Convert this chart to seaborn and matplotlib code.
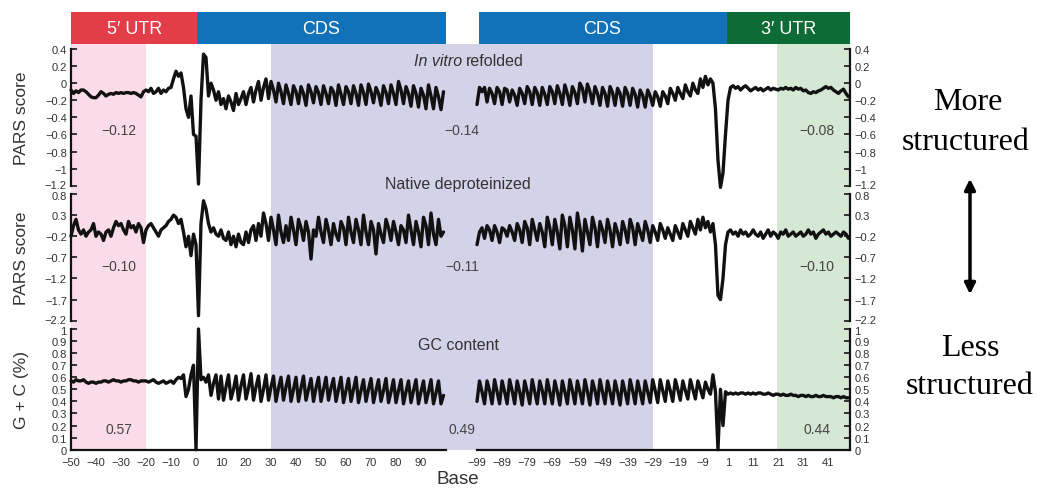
import numpy as np
import pandas as pd
import matplotlib
matplotlib.use('Agg')
import matplotlib.pyplot as plt
import matplotlib.transforms as mtransforms
import seaborn as sns

# bases on each side of the break (start codon side / stop codon side)
bases_left = list(range(-50, 100))
bases_right = list(range(-99, 50))

# In vitro refolded PARS score
vitro_left = [
    -0.08, -0.12, -0.09, -0.11, -0.08, -0.08, -0.10, -0.13, -0.16, -0.17,
    -0.17, -0.14, -0.10, -0.12, -0.15, -0.13, -0.12, -0.13, -0.11, -0.12,
    -0.11, -0.12, -0.11, -0.11, -0.12, -0.11, -0.12, -0.14, -0.16, -0.10,
    -0.08, -0.10, -0.06, -0.12, -0.10, -0.06, -0.12, -0.08, -0.10, -0.06,
    -0.05, 0.05, 0.14, 0.08, 0.12, -0.05, -0.30, -0.40, -0.15, -0.60,
    -0.62, -1.18, -0.20, 0.34, 0.30, -0.15, 0.00, -0.08, -0.20, -0.10,
    -0.25, -0.18, -0.30, -0.15, -0.22, -0.32, -0.12, -0.25, -0.18, -0.10,
    -0.25, -0.12, -0.05, -0.22, -0.08, 0.02, -0.20, -0.05, 0.05, -0.18,
    0.02, -0.08, -0.22, 0.00, -0.10, -0.24, -0.02, -0.12, -0.25, -0.03,
    -0.10, -0.24, -0.04, -0.12, -0.26, -0.02, -0.10, -0.23, -0.04, -0.11,
    -0.25, -0.03, -0.12, -0.24, -0.05, -0.10, -0.26, -0.02, -0.13, -0.25,
    -0.04, -0.10, -0.24, -0.03, -0.12, -0.26, -0.02, -0.11, -0.25, -0.01,
    -0.10, -0.23, -0.05, -0.12, -0.26, -0.03, -0.11, -0.24, -0.02, -0.12,
    -0.25, 0.02, -0.08, -0.24, -0.04, -0.12, -0.27, -0.03, -0.12, -0.28,
    -0.06, -0.14, -0.30, -0.02, -0.15, -0.30, -0.05, -0.16, -0.31, -0.10]
vitro_right = [
    -0.25, -0.05, -0.10, -0.05, -0.22, -0.06, -0.12, -0.24, -0.05, -0.10,
    -0.25, -0.06, -0.08, -0.22, -0.08, -0.14, -0.26, -0.06, -0.12, -0.24,
    -0.04, -0.10, -0.25, -0.05, -0.11, -0.26, -0.05, -0.13, -0.25, -0.04,
    -0.10, -0.24, -0.03, -0.12, -0.25, -0.02, -0.12, -0.26, -0.04, -0.11,
    -0.24, 0.00, -0.06, -0.22, -0.01, -0.10, -0.24, -0.04, -0.12, -0.26,
    -0.05, -0.12, -0.27, -0.04, -0.11, -0.26, -0.06, -0.12, -0.27, -0.05,
    -0.12, -0.26, -0.06, -0.13, -0.28, -0.08, -0.14, -0.28, -0.08, -0.15,
    -0.26, -0.10, -0.16, -0.27, -0.10, -0.15, -0.24, -0.06, -0.12, -0.20,
    -0.05, -0.12, -0.18, -0.02, -0.10, -0.15, 0.00, -0.08, -0.12, 0.05,
    -0.05, 0.08, -0.02, 0.05, 0.00, -0.30, -0.90, -1.22, -1.05, -0.60,
    -0.20, -0.05, -0.03, -0.06, -0.04, -0.08, -0.05, -0.03, -0.06, -0.09,
    -0.07, -0.05, -0.08, -0.06, -0.09, -0.07, -0.05, -0.08, -0.06, -0.07,
    -0.08, -0.06, -0.07, -0.05, -0.07, -0.06, -0.08, -0.05, -0.07, -0.06,
    -0.09, -0.08, -0.11, -0.12, -0.10, -0.11, -0.09, -0.08, -0.06, -0.04,
    -0.06, -0.05, -0.08, -0.10, -0.12, -0.09, -0.07, -0.12, -0.16]

# Native deproteinized PARS score
native_left = [
    -0.20, 0.05, 0.20, -0.05, -0.15, -0.05, -0.20, -0.10, -0.05, 0.10,
    -0.20, -0.10, -0.15, -0.30, -0.10, -0.05, -0.20, 0.00, 0.15, 0.05,
    0.10, -0.05, -0.15, 0.15, 0.00, 0.05, -0.10, 0.10, 0.00, -0.35,
    -0.05, 0.05, 0.10, 0.00, -0.10, -0.20, -0.05, 0.00, 0.05, 0.15,
    0.20, 0.30, 0.25, 0.10, 0.20, -0.10, -0.45, -0.20, -0.66, -0.15,
    -0.40, -2.08, 0.10, 0.64, 0.45, 0.10, -0.10, 0.00, -0.15, -0.20,
    -0.05, -0.25, -0.30, -0.10, -0.40, -0.20, -0.45, -0.15, -0.35, -0.40,
    -0.10, -0.35, -0.05, 0.05, -0.30, 0.10, -0.20, 0.35, 0.10, -0.30,
    0.25, -0.05, -0.40, 0.30, -0.10, -0.35, 0.05, -0.30, 0.25, -0.05,
    -0.40, 0.20, 0.00, -0.30, 0.15, -0.10, -0.74, -0.05, -0.20, 0.25,
    -0.10, -0.35, 0.20, -0.05, -0.40, 0.10, -0.15, -0.30, 0.15, 0.00,
    -0.40, 0.25, -0.10, -0.35, 0.20, -0.05, -0.40, 0.30, -0.10, -0.40,
    0.15, -0.05, -0.62, 0.10, -0.15, -0.35, 0.20, 0.00, -0.30, 0.15,
    -0.10, -0.40, 0.05, -0.05, -0.35, 0.30, -0.05, -0.40, 0.15, -0.10,
    -0.45, 0.25, 0.05, -0.40, 0.35, -0.15, -0.40, 0.20, -0.20, -0.10]
native_right = [
    -0.40, -0.10, 0.00, -0.25, 0.05, -0.05, -0.30, 0.05, -0.10, -0.35,
    0.00, -0.05, -0.20, 0.05, -0.10, -0.30, 0.10, -0.05, -0.35, 0.15,
    0.00, -0.40, 0.20, -0.05, -0.30, 0.10, -0.10, -0.45, 0.25, 0.00,
    -0.40, 0.20, -0.10, -0.50, 0.30, 0.05, -0.45, 0.25, -0.05, -0.50,
    0.35, 0.00, -0.55, 0.20, -0.10, -0.40, 0.25, 0.00, -0.45, 0.15,
    -0.05, -0.35, 0.20, -0.05, -0.45, 0.10, -0.10, -0.40, 0.15, -0.05,
    -0.35, 0.20, 0.00, -0.40, 0.10, -0.10, -0.30, 0.15, -0.05, -0.35,
    0.05, -0.10, -0.30, 0.10, -0.05, -0.25, 0.00, -0.15, -0.30, 0.05,
    -0.10, -0.25, 0.10, -0.05, -0.20, 0.15, 0.00, -0.15, 0.20, -0.05,
    0.25, 0.00, 0.15, -0.10, 0.10, -0.40, -1.60, -1.70, -1.20, -0.40,
    -0.10, -0.05, -0.15, -0.10, -0.20, -0.05, -0.15, -0.10, -0.20, -0.15,
    -0.05, -0.15, -0.20, -0.10, -0.25, -0.15, -0.05, -0.20, -0.10, -0.15,
    -0.25, -0.10, -0.15, -0.05, -0.20, -0.15, -0.10, -0.20, -0.15, -0.10,
    -0.20, -0.15, -0.05, -0.15, -0.10, -0.25, -0.15, -0.10, -0.05, -0.15,
    -0.10, -0.20, -0.15, -0.10, -0.15, -0.20, -0.10, -0.15, -0.25]

# GC content (fraction)
gc_left = [
    0.57, 0.56, 0.58, 0.57, 0.57, 0.58, 0.56, 0.55, 0.56, 0.56,
    0.55, 0.56, 0.56, 0.57, 0.57, 0.56, 0.57, 0.58, 0.57, 0.57,
    0.56, 0.57, 0.57, 0.58, 0.58, 0.57, 0.57, 0.56, 0.57, 0.57,
    0.57, 0.56, 0.57, 0.58, 0.56, 0.55, 0.56, 0.57, 0.55, 0.56,
    0.57, 0.55, 0.58, 0.60, 0.59, 0.62, 0.44, 0.50, 0.62, 0.70,
    0.00, 1.00, 0.58, 0.60, 0.56, 0.62, 0.45, 0.55, 0.62, 0.42,
    0.61, 0.41, 0.52, 0.62, 0.42, 0.50, 0.61, 0.41, 0.53, 0.62,
    0.42, 0.51, 0.63, 0.41, 0.52, 0.61, 0.40, 0.50, 0.62, 0.41,
    0.52, 0.61, 0.40, 0.51, 0.60, 0.41, 0.52, 0.61, 0.40, 0.50,
    0.60, 0.40, 0.51, 0.61, 0.41, 0.50, 0.59, 0.40, 0.51, 0.60,
    0.40, 0.50, 0.60, 0.41, 0.51, 0.59, 0.40, 0.50, 0.60, 0.39,
    0.49, 0.59, 0.40, 0.50, 0.60, 0.39, 0.49, 0.58, 0.40, 0.50,
    0.59, 0.39, 0.49, 0.58, 0.40, 0.49, 0.59, 0.39, 0.48, 0.58,
    0.39, 0.49, 0.58, 0.38, 0.48, 0.57, 0.39, 0.49, 0.58, 0.38,
    0.48, 0.57, 0.39, 0.48, 0.58, 0.38, 0.47, 0.57, 0.38, 0.45]
gc_right = [
    0.40, 0.57, 0.48, 0.38, 0.57, 0.49, 0.38, 0.58, 0.48, 0.38,
    0.57, 0.48, 0.38, 0.58, 0.49, 0.38, 0.57, 0.48, 0.37, 0.57,
    0.48, 0.38, 0.58, 0.48, 0.38, 0.57, 0.49, 0.38, 0.58, 0.48,
    0.38, 0.57, 0.48, 0.37, 0.57, 0.48, 0.38, 0.58, 0.49, 0.38,
    0.57, 0.48, 0.38, 0.58, 0.48, 0.37, 0.57, 0.49, 0.38, 0.58,
    0.48, 0.38, 0.57, 0.48, 0.38, 0.57, 0.48, 0.37, 0.57, 0.48,
    0.38, 0.58, 0.49, 0.38, 0.57, 0.48, 0.38, 0.57, 0.48, 0.39,
    0.58, 0.49, 0.39, 0.58, 0.49, 0.40, 0.57, 0.49, 0.40, 0.58,
    0.50, 0.41, 0.57, 0.49, 0.42, 0.58, 0.50, 0.42, 0.57, 0.50,
    0.43, 0.56, 0.50, 0.46, 0.62, 0.48, 0.00, 0.50, 0.20, 0.48,
    0.46, 0.47, 0.46, 0.47, 0.46, 0.47, 0.47, 0.46, 0.47, 0.46,
    0.47, 0.46, 0.47, 0.47, 0.46, 0.46, 0.47, 0.46, 0.45, 0.46,
    0.46, 0.45, 0.46, 0.45, 0.45, 0.46, 0.45, 0.45, 0.44, 0.45,
    0.45, 0.44, 0.45, 0.44, 0.44, 0.45, 0.44, 0.44, 0.45, 0.44,
    0.44, 0.44, 0.43, 0.44, 0.44, 0.43, 0.44, 0.43, 0.43]

# mean values per region (5' UTR, CDS, 3' UTR)
vitro_means = ['\u22120.12', '\u22120.14', '\u22120.08']
native_means = ['\u22120.10', '\u22120.11', '\u22120.10']
gc_means = ['0.57', '0.49', '0.44']

vitro_ticks = [0.4, 0.2, 0, -0.2, -0.4, -0.6, -0.8, -1, -1.2]
native_ticks = [0.8, 0.3, -0.2, -0.7, -1.2, -1.7, -2.2]
gc_ticks = [0, 0.1, 0.2, 0.3, 0.4, 0.5, 0.6, 0.7, 0.8, 0.9, 1]
xticks_left = list(range(-50, 100, 10))
xticks_right = list(range(-99, 50, 10))

W, H = 1040, 489
LEFT_X, LEFT_W = 71, 375
RIGHT_X, RIGHT_W = 477, 373
XLIM_LEFT = (-50, 100)
XLIM_RIGHT = (-99, 49.6)
TEXT_GREY = '#333333'
LAVENDER = '#d4d2e8'
TICK_SIZE = 8


def fig_rect(x0: float, y_top: float, w: float, y_bottom: float) -> list:
    return [x0 / W, 1 - y_bottom / H, w / W, (y_bottom - y_top) / H]


def fmt_tick(v: float) -> str:
    s = f'{v:g}'
    return s.replace('-', '\u2212')


def nudge(fig, label, dy_px: float) -> None:
    # small vertical shift so stacked panel end labels do not collide
    offset = mtransforms.ScaledTranslation(0, dy_px / 100, fig.dpi_scale_trans)
    label.set_transform(label.get_transform() + offset)


def draw_panel(fig, y_top: float, y_bottom: float, left_vals: list,
               right_vals: list, yticks: list, ylim: tuple,
               ylabel: str, bottom: bool) -> None:
    for side in ('left', 'right'):
        if side == 'left':
            rect = fig_rect(LEFT_X, y_top, LEFT_W, y_bottom)
            xs, ys, xlim, xt = bases_left, left_vals, XLIM_LEFT, xticks_left
        else:
            rect = fig_rect(RIGHT_X, y_top, RIGHT_W, y_bottom)
            xs, ys, xlim, xt = bases_right, right_vals, XLIM_RIGHT, xticks_right
        assert len(xs) == len(ys), (ylabel, side, len(ys))
        ax = fig.add_axes(rect)
        ax.set_facecolor('none')
        df = pd.DataFrame({'base': xs, 'value': ys})
        sns.lineplot(data=df, x='base', y='value', ax=ax, color='#111111',
                     linewidth=2.4, clip_on=False)
        ax.set_xlim(*xlim)
        ax.set_ylim(*ylim)
        for sp in ax.spines.values():
            sp.set_visible(False)
        ax.spines[side].set_visible(True)
        ax.spines[side].set_linewidth(1.6)
        ax.spines[side].set_color('#111111')
        ax.set_yticks(yticks)
        ax.set_yticklabels([fmt_tick(t) for t in yticks])
        ax.tick_params(axis='y', direction='in', length=4, width=1.3,
                       labelsize=TICK_SIZE, labelcolor=TEXT_GREY, pad=3,
                       left=(side == 'left'), labelleft=(side == 'left'),
                       right=(side == 'right'), labelright=(side == 'right'))
        ylabels = ax.get_yticklabels()
        lo = min(range(len(yticks)), key=lambda i: yticks[i])
        hi = max(range(len(yticks)), key=lambda i: yticks[i])
        if not bottom:
            nudge(fig, ylabels[lo], 1.5)
        if y_top > 100:
            nudge(fig, ylabels[hi], -1.5)
        if bottom:
            ax.spines['bottom'].set_visible(True)
            ax.spines['bottom'].set_linewidth(1.6)
            ax.spines['bottom'].set_color('#111111')
            ax.set_xticks(xt)
            ax.set_xticklabels([fmt_tick(t) for t in xt])
            ax.tick_params(axis='x', direction='in', length=4, width=1.3,
                           labelsize=TICK_SIZE, labelcolor=TEXT_GREY, pad=5)
        else:
            ax.set_xticks([])
        ax.set_xlabel('')
        ax.set_ylabel('')
        if side == 'left':
            fig.text(22 / W, 1 - ((y_top + y_bottom) / 2) / H, ylabel,
                     rotation=90, ha='center', va='center', fontsize=12.5,
                     color=TEXT_GREY)


if __name__ == '__main__':
    sns.set_theme(style='white')
    plt.rcParams['font.family'] = ['Liberation Sans', 'DejaVu Sans']

    fig = plt.figure(figsize=(W / 100, H / 100), dpi=100)

    # shaded regions spanning all three panels (CDS shading bridges the break)
    bg_left = fig.add_axes(fig_rect(LEFT_X, 45, LEFT_W, 450.7))
    bg_left.axvspan(-50, -20, color='#fadce8', lw=0)
    bg_left.axvspan(30, 100, color=LAVENDER, lw=0)
    bg_left.set_xlim(*XLIM_LEFT)
    bg_left.axis('off')
    bg_gap = fig.add_axes(fig_rect(LEFT_X + LEFT_W, 45,
                                   RIGHT_X - LEFT_X - LEFT_W, 450.7))
    bg_gap.set_facecolor(LAVENDER)
    bg_gap.set_xticks([])
    bg_gap.set_yticks([])
    for sp in bg_gap.spines.values():
        sp.set_visible(False)
    bg_right = fig.add_axes(fig_rect(RIGHT_X, 45, RIGHT_W, 450.7))
    bg_right.axvspan(-99, -29, color=LAVENDER, lw=0)
    bg_right.axvspan(20.5, 49.6, color='#d5e8d4', lw=0)
    bg_right.set_xlim(*XLIM_RIGHT)
    bg_right.axis('off')

    # region bars on top
    bar_left = fig.add_axes(fig_rect(LEFT_X, 13, LEFT_W, 45))
    bar_left.axvspan(-50, 0.5, color='#e23d48', lw=0)
    bar_left.axvspan(0.5, 100, color='#1171b9', lw=0)
    bar_left.set_xlim(*XLIM_LEFT)
    bar_left.set_ylim(0, 1)
    bar_left.text(-24.5, 0.5, '5\u2032 UTR', color='white', ha='center',
                  va='center', fontsize=13)
    bar_left.text(50, 0.5, 'CDS', color='white', ha='center', va='center',
                  fontsize=13)
    bar_left.axis('off')
    bar_right = fig.add_axes(fig_rect(RIGHT_X, 13, RIGHT_W, 45))
    bar_right.axvspan(-98.2, 0.6, color='#1171b9', lw=0)
    bar_right.axvspan(0.6, 49.6, color='#0d6b35', lw=0)
    bar_right.set_xlim(*XLIM_RIGHT)
    bar_right.set_ylim(0, 1)
    bar_right.text(-49, 0.5, 'CDS', color='white', ha='center', va='center',
                   fontsize=13)
    bar_right.text(25, 0.5, '3\u2032 UTR', color='white', ha='center',
                   va='center', fontsize=13)
    bar_right.axis('off')

    draw_panel(fig, 50, 186.7, vitro_left, vitro_right, vitro_ticks,
               (-1.2, 0.4), 'PARS score', False)
    draw_panel(fig, 195, 321.7, native_left, native_right, native_ticks,
               (-2.2, 0.8), 'PARS score', False)
    draw_panel(fig, 330, 450.7, gc_left, gc_right, gc_ticks,
               (0, 1), 'G + C (%)', True)

    # panel titles
    fig.text(462 / W, 1 - 62 / H, 'In vitro', style='italic', ha='right',
             va='center', fontsize=11.5, color=TEXT_GREY)
    fig.text(466 / W, 1 - 62 / H, 'refolded', ha='left', va='center',
             fontsize=11.5, color=TEXT_GREY)
    fig.text(458 / W, 1 - 184 / H, 'Native deproteinized', ha='center',
             va='center', fontsize=11.5, color=TEXT_GREY)
    fig.text(458 / W, 1 - 345 / H, 'GC content', ha='center', va='center',
             fontsize=11.5, color=TEXT_GREY)

    # region means
    for means, y in ((vitro_means, 131), (native_means, 267), (gc_means, 430)):
        for label, x in zip(means, (119, 462, 817)):
            fig.text(x / W, 1 - y / H, label, ha='center', va='center',
                     fontsize=10, color='#444444')

    fig.text(458 / W, 1 - 480 / H, 'Base', ha='center', va='center',
             fontsize=13.5, color=TEXT_GREY)

    # structure annotation on the right
    serif = ['Liberation Serif', 'DejaVu Serif']
    fig.text(968 / W, 1 - 103 / H, 'More', ha='center', va='center',
             fontsize=23, family=serif, color='black')
    fig.text(966 / W, 1 - 143 / H, 'structured', ha='center', va='center',
             fontsize=23, family=serif, color='black')
    fig.text(970 / W, 1 - 349 / H, 'Less', ha='center', va='center',
             fontsize=23, family=serif, color='black')
    fig.text(970 / W, 1 - 387 / H, 'structured', ha='center', va='center',
             fontsize=23, family=serif, color='black')
    fig.add_artist(matplotlib.patches.FancyArrowPatch(
        (970 / W, 1 - 298 / H), (970 / W, 1 - 177 / H),
        transform=fig.transFigure, arrowstyle='<|-|>', mutation_scale=16,
        lw=2.5, color='black'))

    fig.savefig('out.png', dpi=100)
